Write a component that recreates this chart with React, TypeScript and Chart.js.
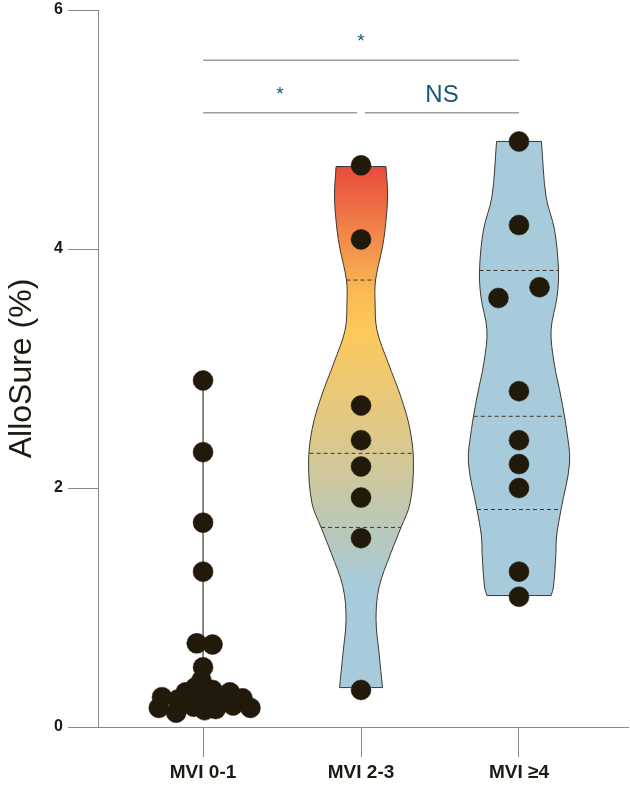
import { useEffect, useRef } from "react";
import { Chart, registerables, type Plugin, type ScriptableContext } from "chart.js";

Chart.register(...registerables);

// ── Data ──────────────────────────────────────────────────────────────
const categories = ["MVI 0-1", "MVI 2-3", "MVI ≥4"];
const yTickValues = [0, 2, 4, 6];

// AlloSure (%) per patient and horizontal spread (category units) as plotted
const mvi01Values = [2.9, 2.3, 1.71, 1.3, 0.7, 0.69, 0.5, 0.39, 0.33, 0.31, 0.29, 0.29, 0.25, 0.24, 0.23, 0.23, 0.22, 0.17, 0.18, 0.16, 0.15, 0.16, 0.12, 0.14];
const mvi01Spread = [0, 0, 0, 0, -0.04, 0.06, 0, -0.01, -0.05, 0.06, -0.11, 0.17, -0.26, 0.25, -0.16, 0, 0.14, -0.06, 0.19, -0.28, 0.08, 0.3, -0.17, 0.01];
const mvi23Values = [4.7, 4.08, 2.69, 2.4, 2.18, 1.92, 1.58, 0.31];
const mvi23Spread = [0, 0, 0, 0, 0, 0, 0, 0];
const mvi4Values = [4.9, 4.2, 3.59, 3.68, 2.81, 2.4, 2.2, 2.0, 1.3, 1.09];
const mvi4Spread = [0, 0, -0.13, 0.13, 0, 0, 0, 0, 0, 0];

// violin density profiles: level (%) and half-width (category units)
const mvi23Levels = [4.69, 4.44, 4.16, 4.0, 3.74, 3.55, 3.32, 3.05, 2.76, 2.49, 2.21, 1.87, 1.67, 1.46, 1.17, 0.9, 0.62, 0.33];
const mvi23Half = [0.158, 0.168, 0.152, 0.133, 0.092, 0.089, 0.101, 0.171, 0.253, 0.31, 0.332, 0.31, 0.253, 0.19, 0.114, 0.095, 0.114, 0.136];
const mvi4Levels = [4.9, 4.44, 4.16, 3.82, 3.6, 3.32, 3.05, 2.76, 2.49, 2.21, 1.82, 1.59, 1.46, 1.17, 1.1];
const mvi4Half = [0.142, 0.171, 0.225, 0.25, 0.241, 0.203, 0.222, 0.266, 0.301, 0.32, 0.266, 0.237, 0.234, 0.218, 0.203];

// quartiles (Q1, median, Q3)
const mvi23Quartiles = [1.67, 2.29, 3.74];
const mvi4Quartiles = [1.82, 2.6, 3.82];

// significance brackets
const bracketFrom = [1, 1, 2.025];
const bracketTo = [3, 1.975, 3];
const bracketLevel = [5.58, 5.14, 5.14];
const bracketLabel = ["*", "*", "NS"];

// ── Styles ────────────────────────────────────────────────────────────
const AXIS = "#8d8a84";
const INK = "#1e1a12";
const DOT = "#211a0b";
const OUTLINE = "#3b3730";
const BLUE = "#a8cbdb";
const TEAL = "#175676";
const BRACKET = "#a19e98";
const FONT = "'Liberation Sans', Arial, sans-serif";
const gradientStops: [number, string][] = [
  [4.7, "#e94a3b"], [4.1, "#f18a4a"], [3.6, "#fbbd55"], [3.3, "#fcc95b"],
  [2.3, "#d8c892"], [1.6, "#b7c8bc"], [1.2, "#a8cbdb"],
];

type Pt = { x: number; y: number };

function dots(center: number, values: number[], spread: number[]): Pt[] {
  return values.map((v, i) => ({ x: center + spread[i], y: v }));
}

// closed outline: down the left side, across the bottom, up the right side, across the top
function violinOutline(center: number, levels: number[], half: number[]): Pt[] {
  const left = levels.map((v, i) => ({ x: center - half[i], y: v }));
  const right = levels.map((v, i) => ({ x: center + half[i], y: v })).reverse();
  const n = left.length;
  return [...left, left[n - 1], right[0], ...right, right[n - 1], left[0]];
}

function halfAt(levels: number[], half: number[], q: number) {
  for (let i = 0; i < levels.length - 1; i++) {
    const a = levels[i], b = levels[i + 1];
    if (q <= a && q >= b) return half[i] + ((a - q) / (a - b)) * (half[i + 1] - half[i]);
  }
  return half[half.length - 1];
}

function quartileLines(center: number, levels: number[], half: number[], qs: number[]) {
  return qs.map((q) => {
    const w = halfAt(levels, half, q);
    return {
      data: [{ x: center - w, y: q }, { x: center + w, y: q }],
      borderColor: OUTLINE, borderWidth: 1, borderDash: [4, 3],
      pointRadius: 0, fill: false, tension: 0, order: 2,
    };
  });
}

const warmGradient = (c: ScriptableContext<"line">) => {
  const { chart } = c;
  const y = chart.scales.y;
  if (!chart.chartArea || !y) return BLUE;
  const top = y.getPixelForValue(Math.max(...mvi23Levels));
  const bottom = y.getPixelForValue(Math.min(...mvi23Levels));
  const g = chart.ctx.createLinearGradient(0, top, 0, bottom);
  for (const [v, col] of gradientStops) {
    const t = (y.getPixelForValue(v) - top) / (bottom - top);
    g.addColorStop(Math.min(1, Math.max(0, t)), col);
  }
  return g;
};

const bracketLabels: Plugin<"line"> = {
  id: "bracketLabels",
  afterDatasetsDraw(chart) {
    const { ctx, scales } = chart;
    ctx.save();
    ctx.fillStyle = TEAL;
    ctx.textAlign = "center";
    ctx.textBaseline = "alphabetic";
    bracketLabel.forEach((t, i) => {
      const star = t === "*";
      const x = scales.x.getPixelForValue((bracketFrom[i] + bracketTo[i]) / 2);
      const y = scales.y.getPixelForValue(bracketLevel[i]) - (star ? 13 : 11);
      ctx.font = star ? `19px ${FONT}` : `24px ${FONT}`;
      ctx.fillText(t, x, y);
    });
    ctx.restore();
  },
};

export default function App() {
  const ref = useRef<HTMLCanvasElement>(null);

  useEffect(() => {
    if (!ref.current) return;

    const dotStyle = {
      backgroundColor: DOT, borderColor: DOT, borderWidth: 0.5,
      pointRadius: 10, showLine: false, clip: false as const, order: 0,
    };

    const chart = new Chart(ref.current, {
      type: "line",
      data: {
        datasets: [
          { ...dotStyle, data: dots(1, mvi01Values, mvi01Spread) },
          { ...dotStyle, data: dots(2, mvi23Values, mvi23Spread) },
          { ...dotStyle, data: dots(3, mvi4Values, mvi4Spread) },
          ...bracketFrom.map((f, i) => ({
            data: [{ x: f, y: bracketLevel[i] }, { x: bracketTo[i], y: bracketLevel[i] }],
            borderColor: BRACKET, borderWidth: 1.5, pointRadius: 0, fill: false,
            tension: 0, clip: false as const, order: 1,
          })),
          ...quartileLines(2, mvi23Levels, mvi23Half, mvi23Quartiles),
          ...quartileLines(3, mvi4Levels, mvi4Half, mvi4Quartiles),
          {
            data: [{ x: 1, y: Math.min(...mvi01Values) }, { x: 1, y: Math.max(...mvi01Values) }],
            borderColor: OUTLINE, borderWidth: 1.2, pointRadius: 0, fill: false, tension: 0, order: 3,
          },
          {
            data: violinOutline(2, mvi23Levels, mvi23Half),
            borderColor: OUTLINE, borderWidth: 1, pointRadius: 0, tension: 0.35,
            fill: "shape", backgroundColor: warmGradient, order: 4,
          },
          {
            data: violinOutline(3, mvi4Levels, mvi4Half),
            borderColor: OUTLINE, borderWidth: 1, pointRadius: 0, tension: 0.35,
            fill: "shape", backgroundColor: BLUE, order: 4,
          },
        ],
      },
      options: {
        animation: false,
        responsive: false,
        events: [],
        layout: { autoPadding: false, padding: { top: 10, right: 2, left: 0, bottom: 0 } },
        plugins: { legend: { display: false }, tooltip: { enabled: false } },
        scales: {
          x: {
            type: "linear",
            min: 0.335,
            max: 3.69,
            afterBuildTicks: (s) => { s.ticks = categories.map((_, i) => ({ value: i + 1 })); },
            afterFit: (s) => { s.height = 63; s.paddingLeft = 0; s.paddingRight = 0; },
            ticks: {
              callback: (v) => categories[Number(v) - 1] ?? "",
              font: { family: FONT, size: 19, weight: "bold" },
              color: INK, padding: 4, autoSkip: false, maxRotation: 0,
            },
            grid: { drawOnChartArea: false, drawTicks: true, tickLength: 30, color: AXIS, lineWidth: 1 },
            border: { display: true, color: AXIS, width: 1 },
          },
          y: {
            min: 0,
            max: 6,
            afterBuildTicks: (s) => { s.ticks = yTickValues.map((v) => ({ value: v })); },
            afterFit: (s) => { s.width = 98; s.paddingTop = 0; s.paddingBottom = 0; },
            ticks: {
              font: { family: FONT, size: 16, weight: "bold" },
              color: INK, padding: 5,
            },
            grid: { drawOnChartArea: false, drawTicks: true, tickLength: 30, color: AXIS, lineWidth: 1 },
            border: { display: true, color: AXIS, width: 1 },
            title: {
              display: true, text: "AlloSure (%)", color: INK,
              font: { family: FONT, size: 32, weight: "normal" },
              padding: { top: 3, bottom: 0 },
            },
          },
        },
      },
      plugins: [bracketLabels],
    });

    return () => { chart.destroy(); };
  }, []);

  return (
    <div style={{ position: "absolute", left: 0, top: 0, width: 630, height: 790, background: "#fff" }}>
      <canvas ref={ref} width={630} height={790} style={{ display: "block", width: 630, height: 790 }} />
    </div>
  );
}
